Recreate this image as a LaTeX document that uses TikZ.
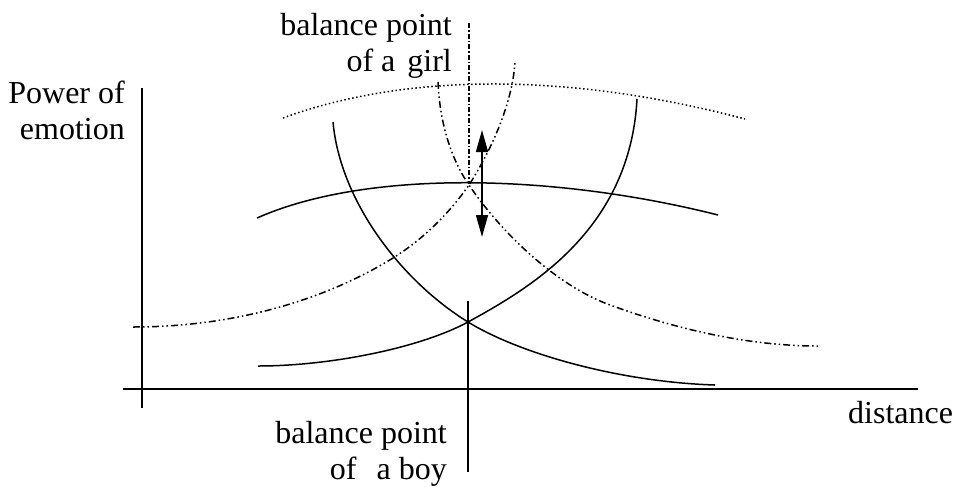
\documentclass[tikz,border=0pt]{standalone}
\usepackage{fontspec}
\setmainfont{Liberation Serif}
\usetikzlibrary{arrows.meta}
\tikzset{
  curve/.style={line width=1.5pt},
  dashdot/.style={line width=1.5pt, dash pattern=on 7pt off 3pt on 1.5pt off 3pt on 1.5pt off 3pt},
  dotline/.style={line width=1.5pt, dash pattern=on 1.5pt off 2.5pt},
  axis/.style={line width=1.5pt},
  lbl/.style={inner sep=0pt, font=\fontsize{32}{36}\selectfont, align=right},
  tri/.tip={Triangle[length=22pt,width=12pt]}
}
\begin{document}
\begin{tikzpicture}[x=1pt,y=-1pt]
\useasboundingbox (0,0) rectangle (955,488);
% axes
\coordinate (yt) at (142,88);
\coordinate (yb) at (142,408);
\coordinate (xl) at (123,389);
\coordinate (xr) at (918,389);
\draw[axis] (yt) -- (yb);
\draw[axis] (xl) -- (xr);
% boy balance line
\coordinate (bt) at (468,301);
\coordinate (bb) at (468,472);
\draw[axis] (bt) -- (bb);
% girl balance line
\coordinate (gt) at (469,23);
\coordinate (gb) at (469,184);
\draw[line width=1.3pt, dash pattern=on 5pt off 2pt on 1.5pt off 2pt] (gt) -- (gb);
% crossing points
\coordinate (boyx) at (468,322);
\coordinate (girlx) at (469,185);
% solid curve A (decreasing)
\draw[curve] (333,122) .. controls (340,200) and (400,280) .. (boyx)
  .. controls (520,354) and (620,382) .. (715,385);
% solid curve B (increasing)
\draw[curve] (258,366) .. controls (330,366) and (420,348) .. (boyx)
  .. controls (530,288) and (630,230) .. (637,99);
% solid hump C
\draw[curve] (257,218) .. controls (370,168) and (560,175) .. (718,215);
% dash-dot D (girl increasing)
\draw[dashdot] (133,327) .. controls (240,327) and (330,297) .. (393,258)
  .. controls (430,235) and (455,205) .. (girlx)
  .. controls (485,160) and (512,110) .. (515,62);
% dash-dot E (girl decreasing)
\draw[dashdot] (438,82) .. controls (440,130) and (455,165) .. (girlx)
  .. controls (500,231) and (555,285) .. (610,305)
  .. controls (665,325) and (740,346) .. (818,346);
% dotted hump F
\draw[dotline] (283,118) .. controls (400,75) and (560,70) .. (745,119);
% double arrow
\coordinate (at) at (482,130);
\coordinate (ab) at (482,237);
\draw[line width=1.5pt, {tri}-{tri}] (at) -- (ab);
% labels
\node[lbl, anchor=north east] (pw) at (125,81) {Power of\\emotion};
\node[lbl, anchor=north east] (gl) at (452,13) {balance point\\of a\hspace{4pt} girl};
\node[lbl, anchor=north east] (bl) at (447,421) {balance point\\of\hspace{12pt} a boy};
\node[lbl, anchor=north west] (ds) at (848,401) {distance};
\end{tikzpicture}
\end{document}
